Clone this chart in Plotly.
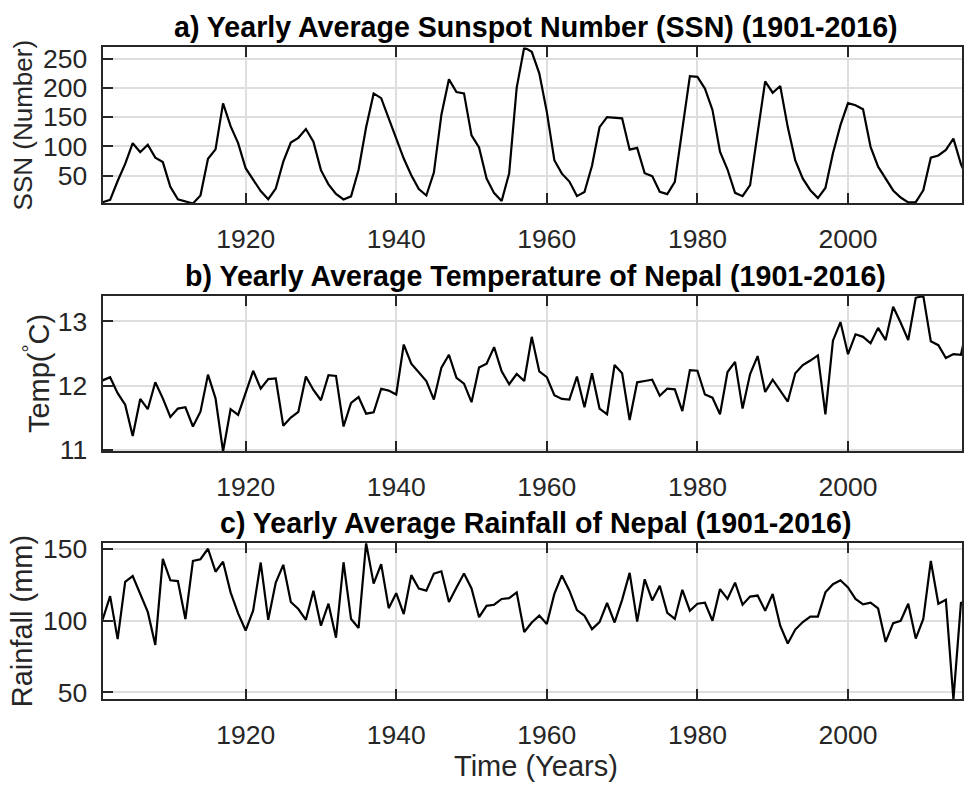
import plotly.graph_objects as go

years = list(range(1901, 2017))

ssn = [4.6, 8.5, 40.8, 70.1, 105.5, 90.1, 102.8, 80.9, 73.2, 30.9,
       9.5, 6.0, 2.4, 16.1, 79.0, 95.0, 173.6, 134.6, 105.7, 62.7,
       43.5, 23.7, 9.7, 27.9, 74.0, 106.5, 114.7, 129.7, 108.2, 59.4,
       35.1, 18.6, 9.2, 14.6, 60.2, 132.8, 190.6, 182.6, 148.0, 113.0,
       79.2, 50.8, 27.1, 16.1, 55.3, 154.3, 214.7, 193.0, 190.7, 118.9,
       98.3, 45.0, 20.1, 6.6, 54.2, 200.7, 269.3, 261.7, 225.1, 159.0,
       76.4, 53.4, 39.9, 15.0, 22.0, 66.8, 132.9, 150.2, 149.4, 148.0,
       94.4, 97.6, 54.1, 49.2, 22.5, 18.4, 39.3, 131.0, 220.1, 218.9,
       198.9, 162.4, 91.0, 60.5, 20.6, 14.8, 33.9, 123.0, 211.1, 191.8,
       203.3, 133.0, 76.1, 44.9, 25.1, 11.6, 28.9, 88.3, 136.3, 173.9,
       170.4, 163.6, 99.3, 65.3, 45.8, 24.7, 12.6, 4.2, 4.8, 24.9,
       80.8, 84.5, 94.0, 113.3, 69.8, 39.8]

temp = [12.08, 12.13, 11.88, 11.70, 11.21, 11.79, 11.63, 12.05, 11.80, 11.51,
        11.64, 11.66, 11.36, 11.59, 12.17, 11.80, 10.97, 11.63, 11.54, 11.88,
        12.23, 11.95, 12.10, 12.11, 11.37, 11.50, 11.59, 12.14, 11.93, 11.77,
        12.16, 12.15, 11.36, 11.73, 11.82, 11.56, 11.58, 11.95, 11.92, 11.86,
        12.64, 12.34, 12.21, 12.07, 11.78, 12.28, 12.48, 12.12, 12.03, 11.74,
        12.28, 12.34, 12.60, 12.22, 12.02, 12.18, 12.07, 12.76, 12.22, 12.13,
        11.85, 11.79, 11.78, 12.14, 11.66, 12.19, 11.64, 11.55, 12.32, 12.19,
        11.46, 12.05, 12.07, 12.09, 11.84, 11.95, 11.94, 11.60, 12.24, 12.23,
        11.86, 11.81, 11.55, 12.21, 12.37, 11.64, 12.18, 12.46, 11.90, 12.09,
        11.92, 11.75, 12.19, 12.32, 12.39, 12.47, 11.55, 12.70, 12.99, 12.49,
        12.80, 12.76, 12.66, 12.90, 12.71, 13.23, 12.98, 12.71, 13.37, 13.40,
        12.69, 12.63, 12.43, 12.49, 12.48, 13.00]

rain = [100.5, 117.0, 87.0, 127.0, 131.0, 118.5, 106.0, 83.0, 143.0, 128.0,
        127.5, 101.0, 141.5, 142.7, 150.0, 134.0, 141.0, 119.6, 105.0, 93.0,
        107.0, 140.4, 100.5, 126.4, 138.8, 112.9, 108.0, 100.5, 120.8, 96.4,
        111.7, 88.0, 140.6, 101.0, 94.8, 153.9, 125.7, 139.3, 108.6, 119.0,
        104.5, 131.6, 122.3, 120.8, 132.7, 134.3, 112.9, 123.0, 132.7, 122.3,
        102.3, 110.2, 111.0, 115.0, 115.6, 119.6, 92.0, 98.6, 103.4, 97.5,
        118.5, 131.4, 120.8, 107.2, 103.4, 94.0, 98.9, 112.2, 98.6, 114.4,
        133.2, 99.3, 128.7, 114.0, 124.2, 105.4, 101.1, 121.4, 106.8, 111.7,
        112.4, 99.8, 121.9, 115.0, 126.4, 111.0, 116.7, 117.4, 106.8, 118.5,
        96.4, 84.0, 93.7, 98.9, 102.7, 102.7, 119.6, 125.3, 128.0, 123.0,
        115.0, 111.3, 112.4, 108.4, 85.1, 98.2, 99.8, 111.7, 87.4, 101.1,
        141.5, 111.7, 114.4, 45.0, 112.2, 115.0]

x_ticks = [1920, 1940, 1960, 1980, 2000]
ssn_ticks = [50, 100, 150, 200, 250]
temp_ticks = [11, 12, 13]
rain_ticks = [50, 100, 150]

titles = ["a) Yearly Average Sunspot Number (SSN) (1901-2016)",
          "b) Yearly Average Temperature of Nepal (1901-2016)",
          "c) Yearly Average Rainfall of Nepal (1901-2016)"]
ylabels = ["SSN (Number)", "Temp(<sup>°</sup>C)", "Rainfall (mm)"]
xlabel = "Time (Years)"

W, H = 964, 798
FONT = "Liberation Sans, Arial, Helvetica, sans-serif"
DARK = "#262626"
GRID = "#dedede"
TICK_FS = 26.5
LABEL_FS = 29
TITLE_FS = 28.6

panels = [(39.5, 200.0), (295.0, 455.0), (549.3, 710.0)]
x_left_px = 102.8
xdom = [x_left_px / W, 1.0]
xrange = [1901, 1901 + (W - x_left_px) / 7.545]

series = [ssn, temp, rain]
yticks = [ssn_ticks, temp_ticks, rain_ticks]

fig = go.Figure()
for i, s in enumerate(series):
    sfx = "" if i == 0 else str(i + 1)
    fig.add_trace(go.Scatter(x=years, y=s, mode="lines",
                             line=dict(color="black", width=2.2),
                             xaxis="x" + sfx, yaxis="y" + sfx,
                             showlegend=False, hoverinfo="skip"))

layout = dict(width=W, height=H, margin=dict(l=0, r=0, t=0, b=0),
              paper_bgcolor="white", plot_bgcolor="white",
              font=dict(family=FONT, color=DARK, size=TICK_FS),
              showlegend=False)

annotations = []
for i, (top, bot) in enumerate(panels):
    sfx = "" if i == 0 else str(i + 1)
    dom = [1 - bot / H, 1 - top / H]
    layout["xaxis" + sfx] = dict(
        domain=xdom, range=xrange, anchor="y" + sfx,
        tickvals=x_ticks, ticks="inside", ticklen=10, tickwidth=2,
        tickcolor=DARK, showline=True, linecolor=DARK, linewidth=2,
        mirror="allticks", showgrid=True, gridcolor=GRID, gridwidth=1.5,
        zeroline=False, tickfont=dict(size=TICK_FS, color=DARK, family=FONT),
        ticklabelstandoff=11)
    s = series[i]
    layout["yaxis" + sfx] = dict(
        domain=dom, range=[min(s), max(s)], anchor="x" + sfx,
        tickvals=yticks[i], ticks="inside", ticklen=10, tickwidth=2,
        tickcolor=DARK, showline=True, linecolor=DARK, linewidth=2,
        mirror=True, showgrid=True, gridcolor=GRID, gridwidth=1.5,
        zeroline=False, tickfont=dict(size=TICK_FS, color=DARK, family=FONT),
        ticklabelstandoff=8)
    annotations.append(dict(
        text="<b>" + titles[i] + "</b>", xref="paper", yref="paper",
        x=536.7 / W, y=1 - (top - 20.5) / H, xanchor="center", yanchor="middle",
        showarrow=False, font=dict(size=TITLE_FS, color="black", family=FONT)))

ylab_x = [23, 36.5, 22]
ylab_fs = [26, LABEL_FS, LABEL_FS]
for i, (top, bot) in enumerate(panels):
    annotations.append(dict(
        text=ylabels[i], xref="paper", yref="paper",
        x=ylab_x[i] / W, y=1 - (top + bot) / 2 / H, xanchor="center",
        yanchor="middle", textangle=-90, showarrow=False,
        font=dict(size=ylab_fs[i], color=DARK, family=FONT)))

annotations.append(dict(
    text=xlabel, xref="paper", yref="paper", x=536.7 / W, y=1 - 778.5 / H,
    xanchor="center", yanchor="middle", showarrow=False,
    font=dict(size=LABEL_FS, color=DARK, family=FONT)))

layout["annotations"] = annotations
fig.update_layout(**layout)
fig.write_html("out.html")
